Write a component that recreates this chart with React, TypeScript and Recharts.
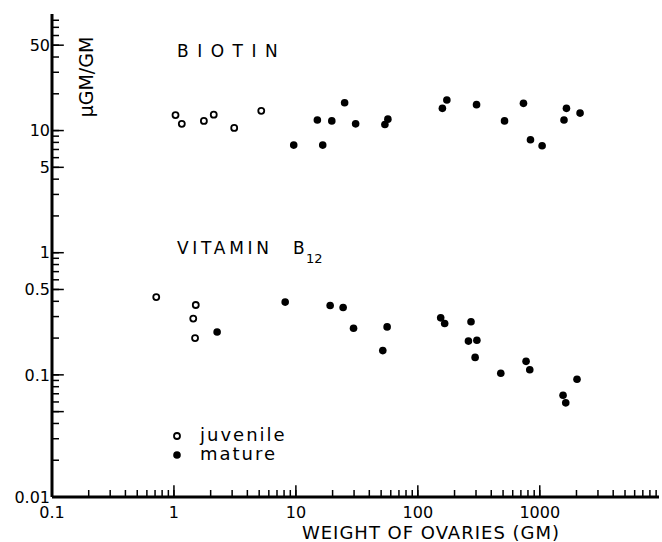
import React from "react"
import { ScatterChart, Scatter, XAxis, YAxis, ReferenceLine } from "recharts"

// biotin, juvenile (open) and mature (filled)
const biotinJuvX = [1.03, 1.16, 1.76, 2.12, 3.12, 5.2]
const biotinJuvY = [13.4, 11.35, 12.0, 13.5, 10.5, 14.5]
const biotinMatX = [9.6, 15.0, 16.6, 19.7, 25.1, 30.9, 53.7, 56.8, 159, 173, 303, 514, 735, 839, 1045, 1580, 1655, 2140]
const biotinMatY = [7.6, 12.2, 7.6, 12.0, 16.9, 11.35, 11.2, 12.4, 15.2, 17.8, 16.3, 12.0, 16.7, 8.4, 7.5, 12.2, 15.2, 13.9]

// vitamin B12
const b12JuvX = [0.716, 1.51, 1.44, 1.49]
const b12JuvY = [0.433, 0.373, 0.289, 0.2]
const b12MatX = [2.26, 8.17, 19.1, 24.4, 29.7, 51.6, 56.0, 154, 166, 260, 273, 295, 305, 479, 772, 828, 1552, 1633, 2020]
const b12MatY = [0.224, 0.394, 0.37, 0.356, 0.241, 0.158, 0.247, 0.293, 0.263, 0.189, 0.272, 0.139, 0.192, 0.103, 0.129, 0.11, 0.068, 0.059, 0.092]

const xDomain = [0.1, 9500]
const yDomain = [0.01, 90]

const xTicks = [
  0.1, 0.2, 0.3, 0.4, 0.5, 0.6, 0.7, 0.8, 0.9,
  1, 2, 3, 4, 5, 6, 7, 8, 9,
  10, 20, 30, 40, 50, 60, 70, 80, 90,
  100, 200, 300, 400, 500, 600, 700, 800, 900,
  1000, 2000, 3000, 4000, 5000, 6000, 7000, 8000, 9000,
]
const xMajor = [1, 10, 100, 1000]
const xLabels: Record<number, string> = { 0.1: "0.1", 1: "1", 10: "10", 100: "100", 1000: "1000" }

const yTicks = [
  0.01, 0.02, 0.03, 0.04, 0.05, 0.06, 0.07, 0.08, 0.09,
  0.1, 0.2, 0.3, 0.4, 0.5, 0.6, 0.7, 0.8, 0.9,
  1, 2, 3, 4, 5, 6, 7, 8, 9,
  10, 20, 30, 40, 50, 60, 70, 80,
]
const yMajor = [0.05, 0.1, 0.5, 1, 5, 10, 50]
const yLabels: Record<number, string> = { 0.01: "0.01", 0.1: "0.1", 0.5: "0.5", 1: "1", 5: "5", 10: "10", 50: "50" }

// long ticks run about a tenth of a decade into the plot
const majorTickRatio = 1.25

const toPoints = (xs: number[], ys: number[]) => xs.map((x, i) => ({ x, y: ys[i] }))

const FONT = "'DejaVu Sans', sans-serif"

const renderXTick = (props: any) => {
  const { x, y, payload } = props
  const label = xLabels[payload.value]
  if (!label) return <g key={`xt-${payload.value}`} />
  return (
    <text key={`xt-${payload.value}`} x={x} y={y + 21} textAnchor="middle" fontSize={16} fontFamily={FONT} fill="#000">
      {label}
    </text>
  )
}

const renderYTick = (props: any) => {
  const { x, y, payload } = props
  const label = yLabels[payload.value]
  if (!label) return <g key={`yt-${payload.value}`} />
  return (
    <text key={`yt-${payload.value}`} x={x - 2} y={y} dy="0.36em" textAnchor="end" fontSize={16} fontFamily={FONT} fill="#000">
      {label}
    </text>
  )
}

const OpenDot = (p: any) => <circle cx={p.cx} cy={p.cy} r={3} fill="#fff" stroke="#000" strokeWidth={1.8} />
const FilledDot = (p: any) => <circle cx={p.cx} cy={p.cy} r={3.8} fill="#000" />

export default function App() {
  return (
    <div style={{ position: "absolute", left: 0, top: 0, width: 662, height: 542, background: "#fff" }}>
      <ScatterChart width={662} height={542} margin={{ top: 14, right: 3, bottom: 0, left: 0 }}>
        <XAxis
          type="number"
          dataKey="x"
          scale="log"
          domain={xDomain}
          ticks={xTicks}
          allowDataOverflow
          height={45}
          tickSize={-7}
          tickMargin={7}
          tickLine={{ stroke: "#000", strokeWidth: 1.5 }}
          tick={renderXTick}
          axisLine={{ stroke: "#000", strokeWidth: 3 }}
          interval={0}
        />
        <XAxis
          xAxisId="top"
          orientation="top"
          type="number"
          scale="log"
          domain={xDomain}
          allowDataOverflow
          height={0}
          tick={false}
          tickLine={false}
          axisLine={{ stroke: "#000", strokeWidth: 2 }}
        />
        <YAxis
          type="number"
          dataKey="y"
          scale="log"
          domain={yDomain}
          ticks={yTicks}
          allowDataOverflow
          width={52}
          tickSize={-7}
          tickMargin={7}
          tickLine={{ stroke: "#000", strokeWidth: 1.5 }}
          tick={renderYTick}
          axisLine={{ stroke: "#000", strokeWidth: 3 }}
          interval={0}
        />
        <YAxis
          yAxisId="right"
          orientation="right"
          type="number"
          scale="log"
          domain={yDomain}
          allowDataOverflow
          width={0}
          tick={false}
          tickLine={false}
          axisLine={{ stroke: "#000", strokeWidth: 2 }}
        />
        {xMajor.map((v) => (
          <ReferenceLine
            key={`xm-${v}`}
            segment={[{ x: v, y: yDomain[0] }, { x: v, y: yDomain[0] * majorTickRatio }]}
            stroke="#000"
            strokeWidth={1.5}
            ifOverflow="visible"
          />
        ))}
        {yMajor.map((v) => (
          <ReferenceLine
            key={`ym-${v}`}
            segment={[{ x: xDomain[0], y: v }, { x: xDomain[0] * majorTickRatio, y: v }]}
            stroke="#000"
            strokeWidth={1.5}
            ifOverflow="visible"
          />
        ))}
        <Scatter data={toPoints(biotinJuvX, biotinJuvY)} shape={OpenDot} isAnimationActive={false} />
        <Scatter data={toPoints(biotinMatX, biotinMatY)} shape={FilledDot} isAnimationActive={false} />
        <Scatter data={toPoints(b12JuvX, b12JuvY)} shape={OpenDot} isAnimationActive={false} />
        <Scatter data={toPoints(b12MatX, b12MatY)} shape={FilledDot} isAnimationActive={false} />
      </ScatterChart>
      <svg width={662} height={542} style={{ position: "absolute", left: 0, top: 0, pointerEvents: "none" }}>
        <g fontFamily={FONT} fill="#000">
          <text x={177} y={57} fontSize={17} letterSpacing={8.5}>BIOTIN</text>
          <text x={177} y={254} fontSize={17} letterSpacing={3.7}>VITAMIN</text>
          <text x={293} y={254} fontSize={17}>B</text>
          <text x={306} y={263} fontSize={13}>12</text>
          <text transform="translate(93,77) rotate(-90)" textAnchor="middle" fontSize={19}>µGM/GM</text>
          <text x={431} y={539} textAnchor="middle" fontSize={18} letterSpacing={1}>WEIGHT OF  OVARIES (GM)</text>
          <circle cx={177} cy={436} r={3} fill="#fff" stroke="#000" strokeWidth={1.8} />
          <circle cx={177} cy={455} r={3.8} fill="#000" />
          <text x={200} y={441} fontSize={18} letterSpacing={2}>juvenile</text>
          <text x={200} y={460} fontSize={18} letterSpacing={2}>mature</text>
        </g>
      </svg>
    </div>
  )
}
